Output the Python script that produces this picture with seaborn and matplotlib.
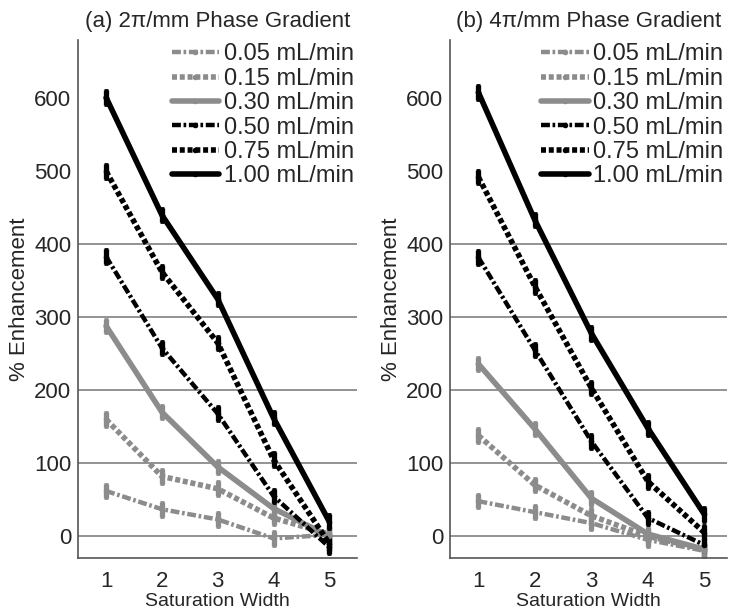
import numpy as np
import pandas as pd
import seaborn as sns
import matplotlib.pyplot as plt

# saturation widths and flow rates
widths = [1, 2, 3, 4, 5]
flows = ["0.05 mL/min", "0.15 mL/min", "0.30 mL/min",
         "0.50 mL/min", "0.75 mL/min", "1.00 mL/min"]

# % enhancement, panel (a) 2pi/mm
enh_a_005 = [62, 37, 23, -3, 2]
enh_a_015 = [160, 82, 65, 25, 3]
enh_a_030 = [288, 170, 95, 38, 0]
enh_a_050 = [383, 258, 168, 55, -15]
enh_a_075 = [500, 362, 265, 105, -10]
enh_a_100 = [601, 440, 325, 162, 20]

# % enhancement, panel (b) 4pi/mm
enh_b_005 = [48, 33, 18, -5, -20]
enh_b_015 = [138, 70, 28, 0, -18]
enh_b_030 = [236, 147, 52, 3, -18]
enh_b_050 = [382, 255, 130, 25, -12]
enh_b_075 = [492, 342, 203, 75, 5]
enh_b_100 = [608, 433, 278, 148, 30]

err = 10

panels = [
    ("(a) 2\u03c0/mm Phase Gradient",
     [enh_a_005, enh_a_015, enh_a_030, enh_a_050, enh_a_075, enh_a_100]),
    ("(b) 4\u03c0/mm Phase Gradient",
     [enh_b_005, enh_b_015, enh_b_030, enh_b_050, enh_b_075, enh_b_100]),
]

gray = "#8c8c8c"
palette = dict(zip(flows, [gray, gray, gray, "black", "black", "black"]))
dashes = dict(zip(flows, [(2.0, 0.6, 0.6, 0.6), (0.9, 0.5), "",
                          (2.0, 0.6, 0.6, 0.6), (0.9, 0.5), ""]))
sizes = dict(zip(flows, [3.2, 4.0, 4.0, 3.2, 4.0, 4.0]))

sns.set_style("white")
plt.rcParams["font.family"] = ["Liberation Sans", "DejaVu Sans"]

fig = plt.figure(figsize=(7.38, 6.14), dpi=100)
boxes = [[0.106, 0.091, 0.378, 0.844], [0.610, 0.091, 0.375, 0.844]]

for (title, series), box, xr in zip(panels, boxes, [5.5, 5.4]):
    ax = fig.add_axes(box)
    rows = []
    for f, vals in zip(flows, series):
        for w, v in zip(widths, vals):
            rows.append({"width": w, "enh": v, "flow": f})
    df = pd.DataFrame(rows)

    for y in [0, 100, 200, 300, 400]:
        ax.axhline(y, color="#8a8a8a", lw=1.3, zorder=0)

    for f, vals in zip(flows, series):
        ax.errorbar(widths, vals, yerr=err, fmt="none", ecolor=palette[f],
                    elinewidth=3.8, capsize=1.5, capthick=2, zorder=2)

    sns.lineplot(data=df, x="width", y="enh", hue="flow", style="flow",
                 size="flow", palette=palette, dashes=dashes, sizes=sizes,
                 markers=dict(zip(flows, ["o"] * 6)), markersize=4,
                 markeredgewidth=0, hue_order=flows, ax=ax, zorder=3)

    ax.set_xlim(0.5, xr)
    ax.set_ylim(-30, 680)
    ax.set_xticks(widths)
    ax.set_yticks([0, 100, 200, 300, 400, 500, 600])
    ax.tick_params(axis="x", direction="in", length=4, labelsize=16,
                   color="#555555", pad=9)
    ax.tick_params(axis="y", length=0, labelsize=16, pad=5)
    for s in ["top", "right"]:
        ax.spines[s].set_visible(False)
    for s in ["left", "bottom"]:
        ax.spines[s].set_color("#555555")
        ax.spines[s].set_linewidth(1.2)
    ax.set_xlabel("Saturation Width", fontsize=14, labelpad=1)
    ax.set_ylabel("% Enhancement", fontsize=16, labelpad=3)
    ax.set_title(title, fontsize=16, pad=9)

    h, l = ax.get_legend_handles_labels()
    leg = ax.legend(h, l, loc="upper right", bbox_to_anchor=(1.0, 1.0),
                    fontsize=17, frameon=True, framealpha=1,
                    edgecolor="white", handlelength=2.0, handletextpad=0.2,
                    labelspacing=0.1, borderpad=0.15, borderaxespad=0.0)

fig.savefig("out.png", dpi=100)
